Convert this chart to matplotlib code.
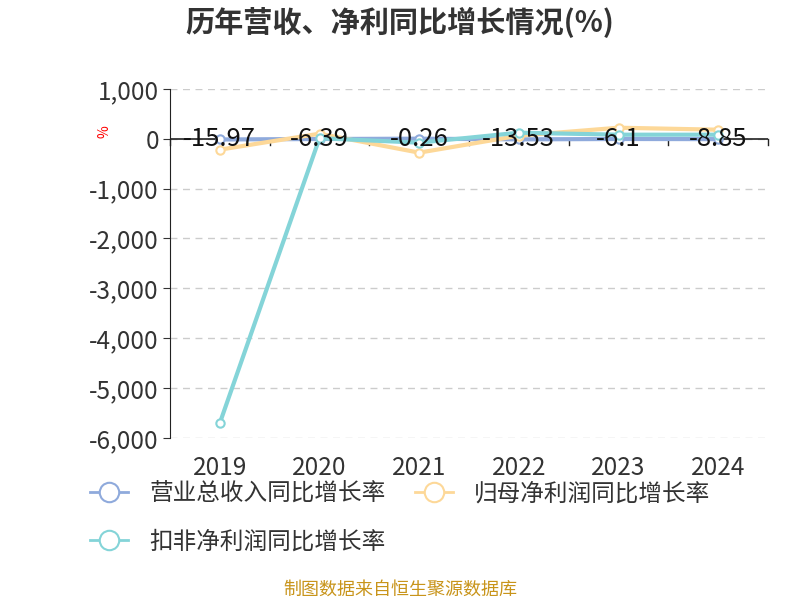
import matplotlib.pyplot as plt
from matplotlib.ticker import FuncFormatter

plt.rcParams['font.family'] = ['Noto Sans CJK SC', 'DejaVu Sans']

years = ['2019', '2020', '2021', '2022', '2023', '2024']
revenue = [-15.97, -6.39, -0.26, -13.53, -6.1, -8.85]
net_profit = [-220, 100, -280, 60, 220, 180]
deducted = [-5700, 10, -80, 120, 80, 80]
names = ['营业总收入同比增长率', '归母净利润同比增长率', '扣非净利润同比增长率']
colors = ['#8faadc', '#fdd898', '#84d4d8']

fig = plt.figure(figsize=(8, 6), dpi=100)
ax = fig.add_axes([0.2125, 0.27, 0.7475, 0.582])

x = list(range(len(years)))
series = [revenue, net_profit, deducted]
lines = []
for vals, name, c in zip(series, names, colors):
    ln, = ax.plot(x, vals, color=c, lw=3, marker='o', ms=6, mfc='white',
                  mec=c, mew=1.5, label=name, zorder=3)
    lines.append(ln)

for xi, v in zip(x, revenue):
    ax.text(xi, v, str(v), ha='center', va='center', fontsize=18.5,
            color='#111111', zorder=5)

ax.set_xlim(-0.5, 5.5)
ax.set_ylim(-6000, 1000)
ax.set_yticks(range(-6000, 1001, 1000))
ax.yaxis.set_major_formatter(FuncFormatter(lambda v, p: f'{int(v):,}'))
ax.grid(axis='y', ls=(0, (5, 4)), color='#cccccc', lw=1)
ax.set_axisbelow(True)

for s in ['top', 'right', 'bottom']:
    ax.spines[s].set_visible(False)
ax.spines['left'].set_color('#222222')
ax.axhline(0, color='#222222', lw=1.2, zorder=2)

ax.set_xticks(x)
ax.set_xticklabels(years)
ax.tick_params(axis='x', length=0, labelsize=17.5, colors='#333333', pad=12)
ax.tick_params(axis='y', labelsize=17.5, colors='#333333', length=5, pad=3)
# tick marks on the zero line
for b in [-0.5 + k for k in range(7)]:
    ax.plot([b, b], [0, -120], color='#222222', lw=1, clip_on=False, zorder=2)

fig.text(0.131, 0.78, '%', color='red', fontsize=10, rotation=90,
         ha='center', va='center')

fig.text(0.5, 0.963, '历年营收、净利同比增长情况(%)', ha='center', va='center',
         fontsize=21, fontweight='bold', color='#333333')

order = [lines[0], lines[2], lines[1]]
leg = fig.legend(handles=order, loc='upper left', bbox_to_anchor=(0.1125, 0.196),
                 ncol=2, frameon=False, fontsize=17, handlelength=1.6,
                 columnspacing=1.25, labelspacing=1.05, handletextpad=0.9,
                 borderaxespad=0, borderpad=0)
for h in leg.legend_handles:
    h.set_markersize(14)
    h.set_linewidth(2)
for t in leg.get_texts():
    t.set_color('#333333')

fig.text(0.5, 0.017, '制图数据来自恒生聚源数据库', ha='center', va='center',
         fontsize=13, color='#c8941a')

fig.savefig('out.png', dpi=100)
